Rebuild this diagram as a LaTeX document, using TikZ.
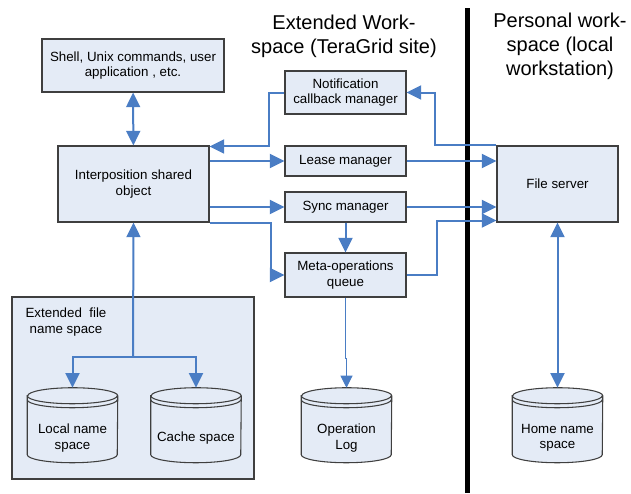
\documentclass[tikz,border=0pt]{standalone}
\usepackage{fontspec}
\setmainfont{Liberation Sans}
\usepackage{tikz}
\usetikzlibrary{arrows.meta, positioning, calc}
\usepackage{xcolor}
\definecolor{linkblue}{HTML}{4A7DC4}
\definecolor{boxfill}{HTML}{E4EBF6}
\definecolor{boxedge}{HTML}{3F3F3F}

\begin{document}
\begin{tikzpicture}[x=0.75pt, y=-0.75pt,
    box/.style={draw=boxedge, line width=0.8pt, fill=boxfill, align=center,
      inner sep=1pt, font=\fontsize{10}{11.5}\selectfont},
    store/.style={minimum width=67.5pt, minimum height=75pt, inner sep=0pt,
      align=center, font=\fontsize{10}{11.5}\selectfont},
    link/.style={draw=linkblue, line width=1.5pt,
      -{Triangle[length=11pt, width=10.5pt]}},
    both/.style={link, {Triangle[length=11pt, width=10.5pt]}-{Triangle[length=11pt, width=10.5pt]}},
    thinlink/.style={draw=linkblue, line width=0.75pt,
      -{Triangle[length=9pt, width=9pt]}},
    title/.style={align=center, font=\fontsize{15}{18}\selectfont}]
    \useasboundingbox (0,0) rectangle (631,493);

    % site divider
    \draw[line width=3.75pt] (467,8) -- (467,493);
    \node[title] (extitle) at (344,36) {Extended Work-\\space (TeraGrid site)};
    \node[title] (pertitle) at (560,46) {Personal work-\\space (local\\workstation)};

    % extended file name space
    \node[box, minimum width=181.5pt, minimum height=136.5pt] (efns) at (133,388) {};
    \node[align=center, font=\fontsize{10}{11.5}\selectfont] (efnslabel) at (66,322)
      {Extended~~file\\name space};

    \node[box, minimum width=136.5pt, minimum height=39.75pt] (shell) at (133,65.5)
      {Shell, Unix commands, user\\application , etc.};
    \node[box, minimum width=113.25pt, minimum height=57pt] (interp) at (133.5,184)
      {Interposition shared\\object};
    \node[box, minimum width=90.75pt, minimum height=32.25pt] (notif) at (345.5,92.5)
      {Notification\\callback manager};
    \node[box, minimum width=90.75pt, minimum height=22.5pt] (lease) at (345.5,161)
      {Lease manager};
    \node[box, minimum width=90.75pt, minimum height=22.5pt] (sync) at (345.5,207)
      {Sync manager};
    \node[box, minimum width=90.75pt, minimum height=33pt] (meta) at (345.5,275)
      {Meta-operations\\queue};
    \node[box, minimum width=90.75pt, minimum height=57pt] (fs) at (557.5,184)
      {File server};

    % cylinders
    \node[store] (local) at (72.5,438) {};
    \node[store] (cache) at (196,438) {};
    \node[store] (oplog) at (346.5,438) {};
    \node[store] (home) at (557.5,438) {};
    \foreach \n in {local, cache, oplog, home} {
      \filldraw[draw=boxedge, line width=0.8pt, fill=boxfill]
        ([yshift=-6pt]\n.north west) -- ([yshift=-50.25pt]\n.north west)
        arc[start angle=180, end angle=360, x radius=33.75pt, y radius=6pt]
        -- ([yshift=-6pt]\n.north east)
        arc[start angle=0, end angle=180, x radius=33.75pt, y radius=6pt] -- cycle;
      \draw[boxedge, line width=0.8pt] ([yshift=-6pt]\n.north west)
        arc[start angle=180, end angle=360, x radius=33.75pt, y radius=6pt];
      \draw[boxedge, line width=0.8pt] ([yshift=-9pt]\n.north west)
        arc[start angle=180, end angle=360, x radius=33.75pt, y radius=6pt];
    }
    \node[store] at (local) {Local name\\space};
    \node[store] at (cache) {Cache space};
    \node[store] at (oplog) {Operation\\Log};
    \node[store] at (home) {Home name\\space};

    % connectors
    \draw[both] (shell) -- (interp);
    \draw[link] (notif.west) -- ++(-15,0) |- ([yshift=-0.75pt]interp.north east);
    \draw[link] (interp.east |- lease.west) -- (lease.west);
    \draw[link] (interp.east |- sync.west) -- (sync.west);
    \draw[link] (interp.south east) -- ++(61,0) |- (meta.west);
    \draw[link] (sync) -- (meta);
    \draw[link] (lease.east) -- (lease.east -| fs.west);
    \draw[link] (sync.east) -- (sync.east -| fs.west);
    \draw[link] (meta.east) -- ++(30,0) |- ([yshift=1.5pt]fs.south west);
    \draw[link] (fs.north west) -- ++(-61,0) |- (notif.east);
    \coordinate (split) at (133,357);
    \draw[link] (split) -- (interp.south);
    \draw[link] (split) -| (local.north);
    \draw[link] (split) -| (cache.north);
    \draw[thinlink] (meta.south) -- ++(0,61) -| (oplog.north);
    \draw[both] (fs.south) -- (home.north);
  \end{tikzpicture}
\end{document}
